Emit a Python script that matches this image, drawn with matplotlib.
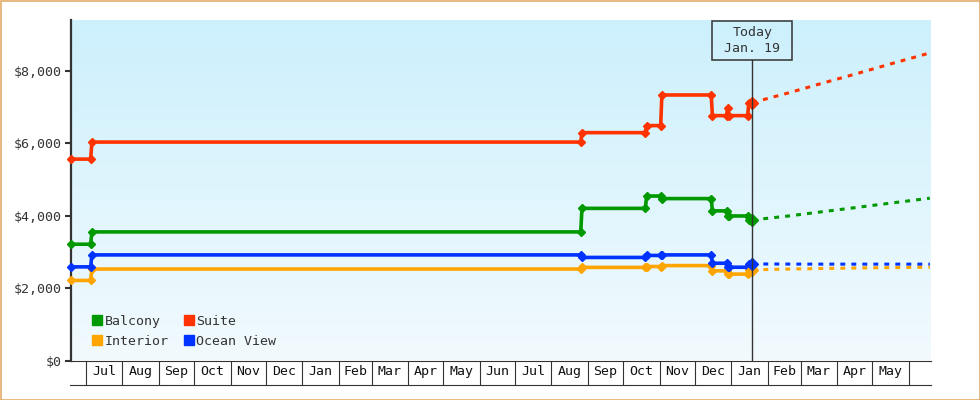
import matplotlib
matplotlib.use("Agg")
import matplotlib.pyplot as plt
import matplotlib.dates as mdates
import matplotlib.transforms as mtrans
from matplotlib.lines import Line2D
from matplotlib.patches import Rectangle
from matplotlib.ticker import FuncFormatter, FixedLocator
import numpy as np
import pandas as pd

# ---------------- data ----------------
series_names = ["Balcony", "Interior", "Suite", "Ocean View"]
series_colors = ["#009900", "#ffa500", "#ff3300", "#0033ff"]

hist_dates = ["2013-06-18", "2013-07-05", "2013-07-06", "2014-08-26", "2014-08-27",
              "2014-10-20", "2014-10-21", "2014-11-02", "2014-11-03", "2014-12-15",
              "2014-12-16", "2014-12-28", "2014-12-29", "2014-12-30", "2015-01-15",
              "2015-01-16", "2015-01-19"]
balcony = [3210, 3210, 3550, 3550, 4200, 4200, 4540, 4540, 4470, 4470, 4130, 4130,
           3990, 3990, 3990, 3880, 3880]
interior = [2210, 2210, 2525, 2525, 2570, 2570, 2595, 2595, 2620, 2620, 2475, 2475,
            2385, 2385, 2385, 2505, 2505]
suite = [5560, 5560, 6030, 6030, 6290, 6290, 6485, 6485, 7330, 7330, 6760, 6760,
         6980, 6760, 6760, 7120, 7120]
ocean_view = [2585, 2585, 2915, 2915, 2845, 2845, 2900, 2900, 2915, 2915, 2685, 2685,
              2575, 2575, 2575, 2665, 2665]

fc_dates = ["2015-01-19", "2015-02-19", "2015-03-19", "2015-04-19", "2015-05-19", "2015-06-19"]
balcony_fc = [3880, 3990, 4105, 4230, 4355, 4480]
interior_fc = [2505, 2525, 2540, 2555, 2565, 2575]
suite_fc = [7120, 7390, 7650, 7930, 8210, 8490]
ocean_view_fc = [2665, 2662, 2660, 2660, 2660, 2660]

today = "2015-01-19"
today_label = "Today\nJan. 19"

month_labels = ["Jul", "Aug", "Sep", "Oct", "Nov", "Dec", "Jan", "Feb", "Mar", "Apr", "May",
                "Jun", "Jul", "Aug", "Sep", "Oct", "Nov", "Dec", "Jan", "Feb", "Mar", "Apr", "May"]
month_first = "2013-07-01"
y_ticks = [0, 2000, 4000, 6000, 8000]
x_start, x_end = "2013-06-18 06:00", "2015-06-20"
y_max = 9400

hist = [balcony, interior, suite, ocean_view]
fcs = [balcony_fc, interior_fc, suite_fc, ocean_view_fc]

# ---------------- figure ----------------
plt.rcParams["font.family"] = ["DejaVu Sans Mono", "DejaVu Sans"]
FS = 9.5
DARK = "#333333"

fig = plt.figure(figsize=(9.8, 4.0), dpi=100)
ax = fig.add_axes([71 / 980, 1 - 360.5 / 400, 860 / 980, 340.5 / 400])

xs = mdates.date2num(pd.to_datetime(x_start))
xe = mdates.date2num(pd.to_datetime(x_end))

# gradient background
grad = np.linspace(0, 1, 256).reshape(-1, 1)
top = np.array([204, 240, 252]) / 255
bot = np.array([242, 250, 254]) / 255
img = top[None, None, :] * (1 - grad[:, :, None]) + bot[None, None, :] * grad[:, :, None]
ax.imshow(img, extent=[xs, xe, 0, y_max], origin="upper", aspect="auto", zorder=0)

hd = pd.to_datetime(hist_dates)
fd = pd.to_datetime(fc_dates)
for name, col, h, f in zip(series_names, series_colors, hist, fcs):
    ax.plot(hd[:-1], h[:-1], color=col, lw=2.6, marker="D", ms=4.4, mew=1.0,
            mec=col, zorder=3, clip_on=False)
    ax.plot(hd[-2:], h[-2:], color=col, lw=2.6, zorder=3)
    ax.plot(fd, f, color=col, lw=2.2, linestyle=(0, (1.6, 2.0)),
            dash_capstyle="butt", zorder=3)
    ax.plot(fd[:1], f[:1], color=col, marker="D", ms=6.5, mew=1.0, mec=col,
            linestyle="none", zorder=4)

ax.set_xlim(xs, xe)
ax.set_ylim(0, y_max)

# today marker
td = mdates.date2num(pd.to_datetime(today))
box_bottom = (360.5 - 60.3) / 340.5
box_top = (360.5 - 20.7) / 340.5
ax.axvline(td, ymin=0, ymax=box_bottom, color=DARK, lw=1.0, zorder=5)
bt = mtrans.blended_transform_factory(ax.transData, ax.transAxes)
half_w = 40 / (860 / (xe - xs))
ax.add_patch(Rectangle((td - half_w, box_bottom), 2 * half_w, box_top - box_bottom,
                       transform=bt, fill=False, edgecolor=DARK, lw=1.1, zorder=5,
                       clip_on=False))
ax.text(td, (box_top + box_bottom) / 2, today_label, transform=bt, ha="center",
        va="center", fontsize=FS, color=DARK, linespacing=1.35, zorder=6)

# y axis
ax.yaxis.set_major_locator(FixedLocator(y_ticks))
ax.yaxis.set_major_formatter(FuncFormatter(lambda v, p: f"${v:,.0f}"))
ax.tick_params(axis="y", direction="out", length=6 / 1.389, width=1.5, color=DARK,
               labelsize=FS, labelcolor=DARK, pad=2)
for s in ["top", "right"]:
    ax.spines[s].set_visible(False)
ax.spines["left"].set_color(DARK)
ax.spines["left"].set_linewidth(1.6)
ax.spines["bottom"].set_color(DARK)
ax.spines["bottom"].set_linewidth(0.8)

# x axis: month boxes
bounds = pd.date_range(month_first, periods=len(month_labels) + 1, freq="MS")
bnum = mdates.date2num(bounds)
mids = (bnum[:-1] + bnum[1:]) / 2
ax.xaxis.set_major_locator(FixedLocator(bnum))
ax.xaxis.set_major_formatter(FuncFormatter(lambda v, p: ""))
ax.xaxis.set_minor_locator(FixedLocator(mids))
ax.set_xticklabels(month_labels, minor=True)
ax.tick_params(axis="x", which="major", direction="out", length=24.5 / 1.389,
               width=0.8, color=DARK)
ax.tick_params(axis="x", which="minor", length=0, labelsize=FS, labelcolor="#111111",
               pad=3.5)
row_bottom = -(385 - 360.5) / 340.5
ax.plot([-1.5 / 860, 1], [row_bottom, row_bottom], transform=ax.transAxes,
        color=DARK, lw=0.8, clip_on=False)

# legend
handles = [Line2D([], [], marker="s", color=c, linestyle="none", markersize=7.8)
           for c in series_colors]
leg = ax.legend(handles, series_names, ncol=2, loc="lower left",
                bbox_to_anchor=((93 - 71) / 860 - 0.001, 0.037), frameon=False,
                fontsize=FS, handlelength=0.8, handletextpad=0.15, columnspacing=1.15,
                labelspacing=0.52, borderpad=0, borderaxespad=0)
for t in leg.get_texts():
    t.set_color(DARK)

# outer border
fig.patches.append(Rectangle((0.5 / 980, 0.5 / 400), 979 / 980, 399 / 400,
                             transform=fig.transFigure, fill=False,
                             edgecolor="#e3a45c", lw=1.1))

fig.savefig("out.png", dpi=100)
